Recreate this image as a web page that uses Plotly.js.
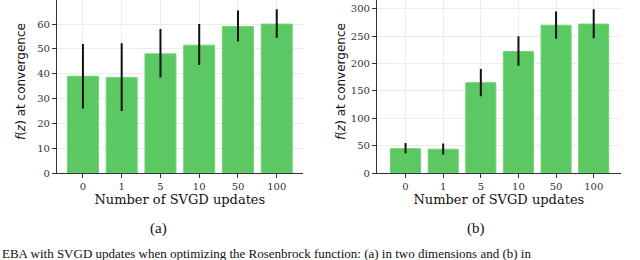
<!DOCTYPE html>
<html>
<head>
<meta charset="utf-8">
<script src="https://cdn.plot.ly/plotly-3.0.1.min.js"></script>
<style>html,body{margin:0;padding:0;background:#fff;}#chart{width:640px;height:260px;}</style>
</head>
<body>
<div id="chart"></div>
<script>
const categories = ['0', '1', '5', '10', '50', '100'];
// panel (a)
const valuesA = [39, 38.5, 48, 51.5, 59, 60];
const upperA  = [52, 52.3, 58, 60, 65.5, 66];
const lowerA  = [26, 25, 38.5, 43.5, 53, 54.5];
// panel (b)
const valuesB = [44.5, 43.5, 165, 222, 270, 272];
const upperB  = [55, 54, 190, 250, 295, 299];
const lowerB  = [36, 34, 140, 196, 245, 246];
const yTicksA = [0, 10, 20, 30, 40, 50, 60];
const yTicksB = [0, 50, 100, 150, 200, 250, 300];
const xTitle = 'Number of SVGD updates';
const yTitle = '<i>f</i>(<i>z</i>) at convergence';
const captions = ['(a)', '(b)'];
const bottomCaption = 'EBA with SVGD updates when optimizing the Rosenbrock function: (a) in two dimensions and (b) in';

const green = '#5cc864';
function barTrace(vals, up, lo, xa, ya) {
  return {
    type: 'bar', x: categories, y: vals, xaxis: xa, yaxis: ya,
    width: 0.8,
    marker: {color: green, line: {color: '#6fd676', width: 1}},
    error_y: {type: 'data', symmetric: false,
      array: up.map((u, i) => u - vals[i]),
      arrayminus: lo.map((l, i) => vals[i] - l),
      color: '#111', thickness: 2, width: 0},
    hoverinfo: 'skip', showlegend: false
  };
}
const tickFont = {family: 'DejaVu Serif', size: 10, color: '#333'};
function xAxis(domain, anchor, range) {
  return {domain: domain, anchor: anchor, type: 'category', range: range,
    showgrid: true, gridcolor: '#ececec', gridwidth: 1,
    showline: true, linecolor: '#333', linewidth: 1,
    ticks: 'outside', ticklen: 4, tickcolor: '#333', tickwidth: 1,
    tickfont: tickFont, zeroline: false,
    title: {text: xTitle, font: {family: 'DejaVu Serif', size: 13, color: '#111'}, standoff: 3}};
}
function yAxis(anchor, range, ticks) {
  return {anchor: anchor, domain: [0, 1], range: range, tickvals: ticks,
    showgrid: true, gridcolor: '#ececec', gridwidth: 1,
    showline: true, linecolor: '#333', linewidth: 1,
    ticks: 'outside', ticklen: 4, tickcolor: '#333', tickwidth: 1,
    tickfont: tickFont, zeroline: false};
}
const data = [
  barTrace(valuesA, upperA, lowerA, 'x', 'y'),
  barTrace(valuesB, upperB, lowerB, 'x2', 'y2')
];
const capFont = {family: 'Liberation Serif', size: 15, color: '#111'};
const yTitleFont = {family: 'DejaVu Sans', size: 12, color: '#111'};
const layout = {
  width: 640, height: 260,
  margin: {l: 0, r: 0, t: 0, b: 87},
  paper_bgcolor: '#fff', plot_bgcolor: '#fff',
  bargap: 0.2,
  xaxis: xAxis([0.089, 0.473], 'y', [-0.67, 5.67]),
  yaxis: yAxis('x', [0, 69.7], yTicksA),
  xaxis2: xAxis([0.589, 0.970], 'y2', [-0.76, 5.72]),
  yaxis2: yAxis('x2', [0, 316], yTicksB),
  annotations: [
    {text: yTitle, xref: 'paper', yref: 'paper', x: 0.034, y: 0.53, textangle: -90, xanchor: 'center', yanchor: 'middle', showarrow: false, font: yTitleFont},
    {text: yTitle, xref: 'paper', yref: 'paper', x: 0.534, y: 0.53, textangle: -90, xanchor: 'center', yanchor: 'middle', showarrow: false, font: yTitleFont},
    {text: captions[0], xref: 'paper', yref: 'paper', x: 0.247, y: -0.318, xanchor: 'center', yanchor: 'middle', showarrow: false, font: capFont},
    {text: captions[1], xref: 'paper', yref: 'paper', x: 0.744, y: -0.318, xanchor: 'center', yanchor: 'middle', showarrow: false, font: capFont},
    {text: bottomCaption, xref: 'paper', yref: 'paper', x: 0, y: -0.41, xanchor: 'left', yanchor: 'top', showarrow: false,
     font: {family: 'Liberation Serif', size: 13, color: '#111'}}
  ]
};
Plotly.newPlot('chart', data, layout, {displayModeBar: false, staticPlot: true});
</script>
</body>
</html>
